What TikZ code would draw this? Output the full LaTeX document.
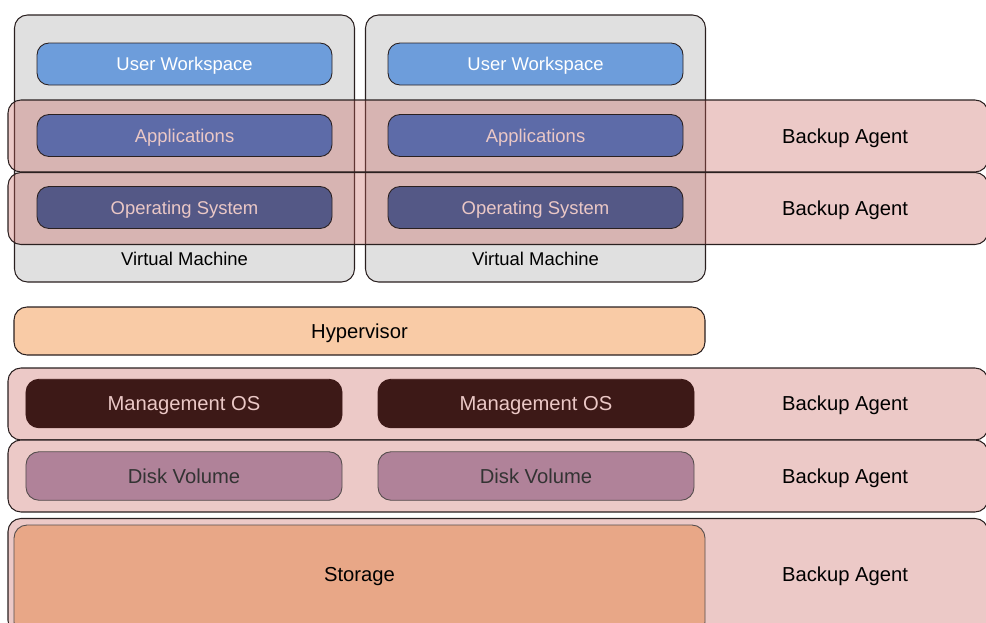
\documentclass[tikz,border=0pt]{standalone}
\usepackage{fontspec}
\setmainfont{Liberation Sans}
\definecolor{vmgray}{HTML}{E0E0E0}
\definecolor{wsblue}{HTML}{6D9DDB}
\definecolor{appblue}{HTML}{5D6BA8}
\definecolor{osblue}{HTML}{545886}
\definecolor{bandred}{RGB}{199,96,90}
\definecolor{hyperorange}{HTML}{F9CBA6}
\definecolor{mgmtbrown}{HTML}{3D1917}
\definecolor{diskmauve}{HTML}{B08299}
\definecolor{storeorange}{HTML}{E8A787}
\definecolor{pinktext}{HTML}{EBC8C6}
\definecolor{edgedark}{HTML}{2A2020}
\begin{document}
\begin{tikzpicture}[
    every node/.append style={font=\fontsize{10.5}{12}\selectfont, text depth=0pt},
    bigfont/.style={font=\fontsize{11.5}{13}\selectfont},
    vmbox/.style={rectangle, rounded corners=0.26cm, draw=edgedark, line width=0.6pt, fill=vmgray, minimum width=6.8cm, minimum height=5.34cm},
    layer/.style={rectangle, rounded corners=0.24cm, draw=edgedark, line width=0.5pt, minimum width=5.9cm, minimum height=0.84cm, align=center},
    band/.style={rectangle, rounded corners=0.26cm, draw=edgedark, line width=0.6pt, minimum width=19.6cm, minimum height=1.44cm},
    hostbox/.style={rectangle, rounded corners=0.26cm, draw=edgedark, line width=0.5pt, minimum width=6.32cm, minimum height=0.97cm, bigfont},
    agent/.style={bigfont, text=black}
]
    \clip (0,0) rectangle (19.72,-12.44);

    % Virtual Machines
    \node[vmbox] (vmA) at (3.69,-2.97) {};
    \node[vmbox] (vmB) at (10.71,-2.97) {};
    \node[layer, fill=wsblue, text=white] (wsA) at (3.69,-1.28) {User Workspace};
    \node[layer, fill=wsblue, text=white] (wsB) at (10.71,-1.28) {User Workspace};
    \node (vmlabelA) at (3.69,-5.18) {Virtual Machine};
    \node (vmlabelB) at (10.71,-5.18) {Virtual Machine};

    % Backup bands over the guests
    \node[band, fill=bandred, fill opacity=0.34] (bandApp) at (9.96,-2.72) {};
    \node[band, fill=bandred, fill opacity=0.34] (bandOs) at (9.96,-4.17) {};
    \node[layer, fill=appblue, text=pinktext] (appA) at (3.69,-2.71) {Applications};
    \node[layer, fill=appblue, text=pinktext] (appB) at (10.71,-2.71) {Applications};
    \node[layer, fill=osblue, text=pinktext] (osA) at (3.69,-4.15) {Operating System};
    \node[layer, fill=osblue, text=pinktext] (osB) at (10.71,-4.15) {Operating System};
    \node[agent] (agentApp) at (16.9,-2.72) {Backup Agent};
    \node[agent] (agentOs) at (16.9,-4.17) {Backup Agent};

    % Hypervisor
    \node[rectangle, rounded corners=0.26cm, draw=edgedark, line width=0.6pt, fill=hyperorange, minimum width=13.82cm, minimum height=0.96cm, bigfont] (hyper) at (7.19,-6.62) {Hypervisor};

    % Host layers
    \node[band, fill=bandred!34] (bandMgmt) at (9.96,-8.08) {};
    \node[band, fill=bandred!34] (bandDisk) at (9.96,-9.52) {};
    \node[band, fill=bandred!34, minimum height=2.3cm] (bandStore) at (9.96,-11.52) {};
    \node[hostbox, fill=mgmtbrown, draw=mgmtbrown, text=pinktext] (mgmtA) at (3.68,-8.07) {Management OS};
    \node[hostbox, fill=mgmtbrown, draw=mgmtbrown, text=pinktext] (mgmtB) at (10.72,-8.07) {Management OS};
    \node[hostbox, fill=diskmauve, draw=edgedark!80, text=black!80] (diskA) at (3.68,-9.52) {Disk Volume};
    \node[hostbox, fill=diskmauve, draw=edgedark!80, text=black!80] (diskB) at (10.72,-9.52) {Disk Volume};
    \node[rectangle, rounded corners=0.26cm, draw=edgedark!80, line width=0.5pt, fill=storeorange, minimum width=13.82cm, minimum height=2.2cm, bigfont] (store) at (7.19,-11.6) {};
    \node[bigfont] (storelabel) at (7.19,-11.48) {Storage};
    \node[agent] (agentMgmt) at (16.9,-8.07) {Backup Agent};
    \node[agent] (agentDisk) at (16.9,-9.52) {Backup Agent};
    \node[agent] (agentStore) at (16.9,-11.48) {Backup Agent};

\end{tikzpicture}
\end{document}
